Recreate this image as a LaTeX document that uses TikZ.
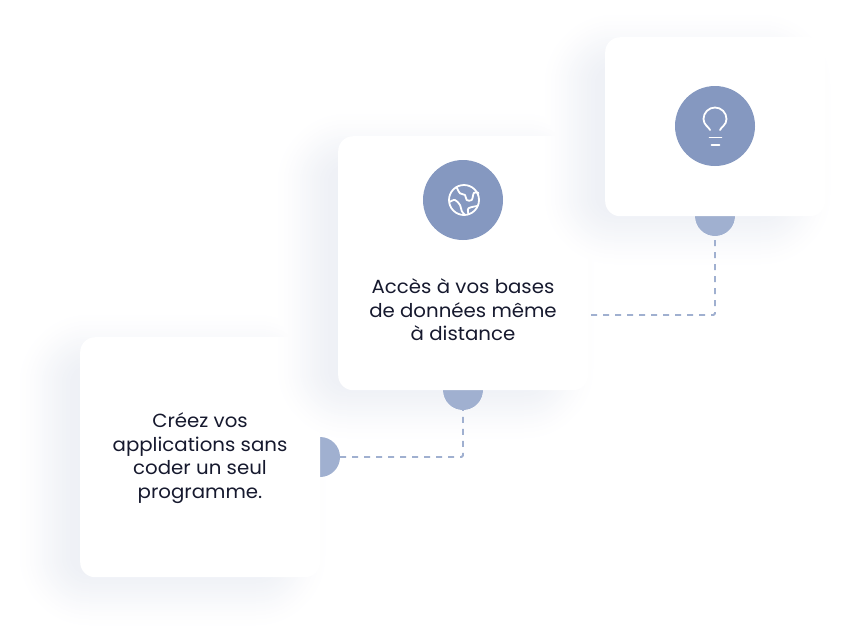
\documentclass[tikz,border=0pt]{standalone}
\usepackage{fontspec}
\setmainfont{Poppins}[FakeStretch=1.04]
\definecolor{deep}{HTML}{8598C0}
\definecolor{soft}{HTML}{A0B0D0}
\definecolor{ink}{HTML}{16192E}
\definecolor{shade}{HTML}{8090B8}
\newcommand{\softshadow}[4]{%
  \foreach \s in {48,46,...,-20}{%
    \pgfmathsetmacro{\tt}{(48-\s)/68}%
    \pgfmathsetmacro{\pp}{13*\tt*\tt*(3-2*\tt)}%
    \pgfmathsetmacro{\rr}{max(\s+30,4)}%
    \fill[shade!\pp!white,blend mode=darken,rounded corners=\rr pt]
      (#1-\s,#2-\s) rectangle (#3+\s,#4+\s);
  }}
\tikzset{
  card/.style={fill=white,rounded corners=15pt,inner sep=0pt,anchor=north west},
  dot/.style={circle,fill=soft,minimum size=40pt,inner sep=0pt},
  badge/.style={circle,fill=deep,minimum size=80pt,inner sep=0pt},
  link/.style={draw=soft,line width=1.8pt,dash pattern=on 6pt off 6pt,rounded corners=1.5pt},
  icon/.style={draw=white,line width=1.8pt,line cap=round,line join=round},
  label/.style={font=\fontsize{19}{23.5}\selectfont,text=ink,align=center,inner sep=0pt}
}
\begin{document}
\begin{tikzpicture}[x=1pt,y=-1pt]
\useasboundingbox (0,0) rectangle (845,641);
\fill[white] (0,0) rectangle (845,641);
% lowest shadow, then markers
\softshadow{60}{355}{285}{585}
\node[dot] (dotA) at (320,457) {};
\node[dot] (dotB) at (463,390) {};
\node[dot] (dotC) at (715,216) {};
% cards with their shadows, each above the previous card
\node[card,minimum width=240pt,minimum height=240pt] (cardA) at (80,337) {};
\softshadow{318}{154}{553}{398}
\node[card,minimum width=250pt,minimum height=254pt] (cardB) at (338,136) {};
\softshadow{585}{55}{790}{224}
\node[card,minimum width=220pt,minimum height=179pt] (cardC) at (605,37) {};
% badges
\node[badge] (badgeB) at (463,200) {};
\node[badge] (badgeC) at (715,126) {};
% labels
\node[label] (textA) at (200,458) {Créez vos\\applications sans\\coder un seul\\programme.};
\node[label] (textB) at (463,310) {Accès à vos bases\\de données même\\à distance};
% connectors
\coordinate (startB) at (591,315);
\draw[link] (dotA.east) -| (dotB.south);
\draw[link] (startB) -| (dotC.south);
% bulb icon
\draw[icon] (710,130) .. controls (709,127) and (703.5,125) .. (703.5,119)
  arc[start angle=180,end angle=360,radius=11.5]
  .. controls (726.5,125) and (721,127) .. (720,130);
\draw[icon] (709.5,137.5) -- (721.5,137.5);
\draw[icon] (711.5,145) -- (719.5,145);
% globe icon
\draw[icon] (464,200) circle[radius=15];
\draw[icon] plot[smooth,tension=0.6] coordinates {(456.7,187.3) (460,193.3) (465,195) (466.7,200) (471.7,200) (474,192.7) (478.5,193)};
\draw[icon] plot[smooth,tension=0.6] coordinates {(449.5,202) (455,200) (460,205) (461.7,211) (464.5,214.5)};
\draw[icon] plot[smooth,tension=0.6] coordinates {(468.5,214) (468.5,208.3) (477.5,206)};
\end{tikzpicture}
\end{document}
